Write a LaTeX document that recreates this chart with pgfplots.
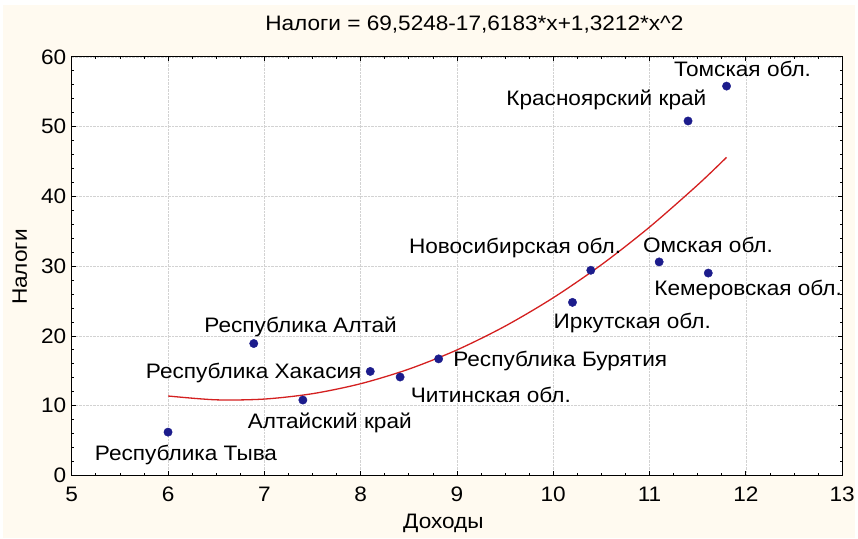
\documentclass[border=0pt]{standalone}
\usepackage{fontspec}
\setmainfont[FakeStretch=1.08]{Liberation Sans}
\usepackage{pgfplots}
\usepackage{pgfplotstable}
\pgfplotsset{compat=1.18}
\usetikzlibrary{backgrounds,calc}
\definecolor{cream}{HTML}{FFFAF0}
\definecolor{navy}{HTML}{1C1C8C}
\definecolor{fitred}{HTML}{D42020}
\newcommand{\lblfont}{\fontsize{21bp}{25bp}\selectfont}

\pgfplotstableread[col sep=comma]{
x,y,dx,dy,label
6.00,6.2,18,-28,Республика Тыва
6.89,18.9,47,11,Республика Алтай
7.40,10.8,27,-29,Алтайский край
8.10,14.9,-117,-7,Республика Хакасия
8.41,14.1,91,-26,Читинская обл.
8.81,16.7,122,-8,Республика Бурятия
10.20,24.8,60,-26,Иркутская обл.
10.39,29.4,-76,17,Новосибирская обл.
11.10,30.6,49,9,Омская обл.
11.61,29.0,40,-23,Кемеровская обл.
11.40,50.8,-82,16,Красноярский край
11.80,55.8,16,10,Томская обл.
}\pts

\begin{document}
\begin{tikzpicture}
\begin{axis}[
  name=ax,
  scale only axis,
  width=773bp, height=420bp,
  xmin=5, xmax=13, ymin=0, ymax=60,
  xtick={5,6,...,13}, ytick={0,10,...,60},
  minor x tick num=3, minor y tick num=4,
  tick align=inside,
  major tick length=4bp, minor tick length=2.5bp,
  xtick pos=both, ytick pos=both,
  axis line style={black, line width=1.1bp},
  tick style={black, line width=0.7bp},
  grid=major,
  major grid style={densely dotted, gray!35, line width=0.6bp},
  axis background/.style={fill=white},
  /pgf/number format/assume math mode=true,
  ticklabel style={font=\lblfont},
  xticklabel style={yshift=-8bp},
  yticklabel style={xshift=-2bp},
  title={Налоги = 69,5248-17,6183*x+1,3212*x\^{}2},
  title style={at={(axis description cs:0.5226,1)}, anchor=base, yshift=20bp, font=\lblfont, inner sep=0pt},
  xlabel={Доходы},
  xlabel style={at={(axis description cs:0.4825,0)}, anchor=base, yshift=-53bp, font=\lblfont, inner sep=0pt},
  ylabel={Налоги},
  every axis y label/.style={at={(axis description cs:-0.0582,0.4976)}, rotate=90, anchor=base, font=\lblfont, inner sep=0pt},
]
\addplot[fitred, line width=1.3bp, smooth] coordinates {
(6,11.38) (6.5,10.83) (7,10.94) (7.5,11.71) (8,13.14) (8.5,15.23) (9,17.98)
(9.5,21.39) (10,25.46) (10.5,30.19) (11,35.59) (11.5,41.64) (11.8,45.59)};
\addplot[only marks, mark=*, mark size=4.2bp, navy,
  mark options={fill=navy, draw=navy},
  visualization depends on={\thisrow{dx}\as\dx},
  visualization depends on={\thisrow{dy}\as\dy},
  nodes near coords, point meta=explicit symbolic,
  every node near coord/.append style={anchor=base, xshift={\dx*1bp}, yshift={\dy*1bp}, text=black, inner sep=0pt, font=\lblfont}
] table[x=x, y=y, meta=label] {\pts};
\end{axis}
\begin{scope}[on background layer]
\fill[white] ($(ax.south west)+(-72bp,-63bp)$) rectangle ($(ax.south west)+(786bp,477bp)$);
\fill[cream] ($(ax.south west)+(-69bp,-63bp)$) rectangle ($(ax.south west)+(786bp,472bp)$);
\end{scope}
\end{tikzpicture}
\end{document}
